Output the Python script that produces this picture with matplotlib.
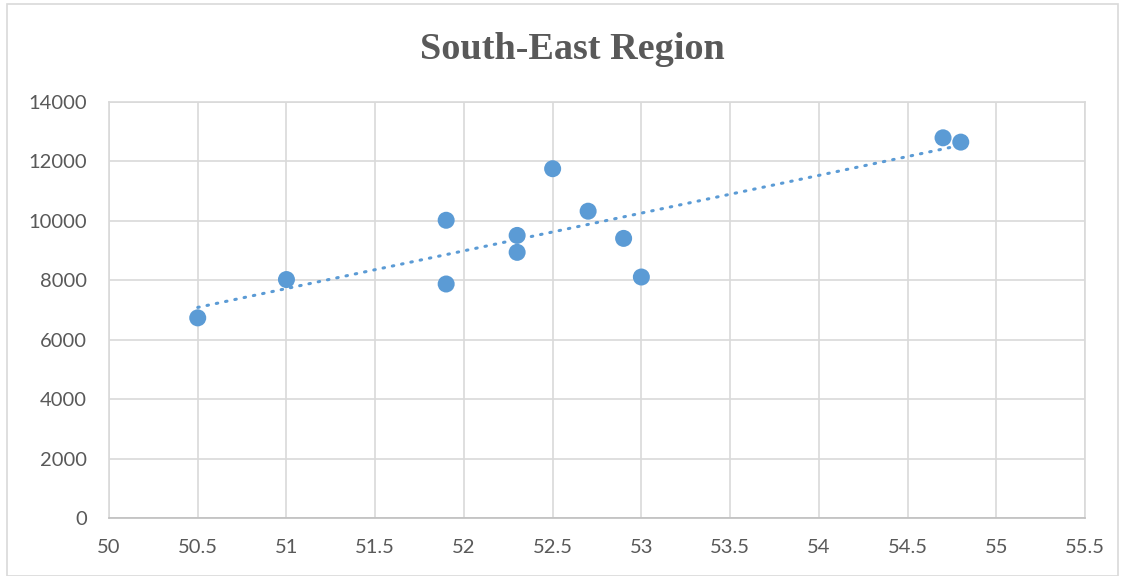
import numpy as np
import matplotlib
matplotlib.use("Agg")
import matplotlib.pyplot as plt
from matplotlib.patches import Rectangle

# Data
latitude = [50.5, 51.0, 51.9, 51.9, 52.3, 52.3, 52.5, 52.7, 52.9, 53.0, 54.7, 54.8]
value = [6735, 8025, 10020, 7875, 9510, 8940, 11755, 10325, 9410, 8110, 12795, 12650]
x_ticks = [50, 50.5, 51, 51.5, 52, 52.5, 53, 53.5, 54, 54.5, 55, 55.5]
y_ticks = [0, 2000, 4000, 6000, 8000, 10000, 12000, 14000]
title = "South-East Region"

blue = "#5B9BD5"
text_grey = "#595959"
grid_grey = "#D9D9D9"

fig = plt.figure(figsize=(11.28, 5.76), dpi=100)
ax = fig.add_axes([109 / 1128, 1 - 518 / 576, (1085 - 109) / 1128, (518 - 102) / 576])

# Linear trendline over the data range
slope, intercept = np.polyfit(latitude, value, 1)
tx = np.array([min(latitude), max(latitude)])
ax.plot(tx, slope * tx + intercept, color=blue, lw=2.2,
        linestyle=(0, (0.5, 2.6)), dash_capstyle="round", zorder=2)

ax.scatter(latitude, value, s=150, color=blue, edgecolors="none", zorder=3)

ax.set_xlim(50, 55.5)
ax.set_ylim(0, 14000)
ax.set_xticks(x_ticks)
ax.set_xticklabels([f"{t:g}" for t in x_ticks])
ax.set_yticks(y_ticks)
ax.set_yticklabels([str(t) for t in y_ticks])

ax.grid(True, color=grid_grey, lw=1.2, zorder=0)
ax.set_axisbelow(True)
for side in ["left", "top", "right"]:
    ax.spines[side].set_color(grid_grey)
    ax.spines[side].set_linewidth(1.2)
ax.spines["bottom"].set_color("#BFBFBF")
ax.spines["bottom"].set_linewidth(1.2)

ax.tick_params(length=0, labelsize=14.5, labelcolor=text_grey)
ax.tick_params(axis="x", pad=15)
ax.tick_params(axis="y", pad=16)
for lab in ax.get_xticklabels() + ax.get_yticklabels():
    lab.set_fontfamily("Lato")

fig.text(572 / 1128, 1 - 59 / 576, title, ha="center", va="baseline",
         fontsize=27.5, fontweight="bold", family="Liberation Serif", color=text_grey)

# Chart area border
fig.patches.append(Rectangle((7 / 1128, 0), (1118 - 7) / 1128, 1 - 4 / 576,
                             transform=fig.transFigure, fill=False,
                             edgecolor=grid_grey, lw=1.2))

fig.savefig("out.png", dpi=100)
